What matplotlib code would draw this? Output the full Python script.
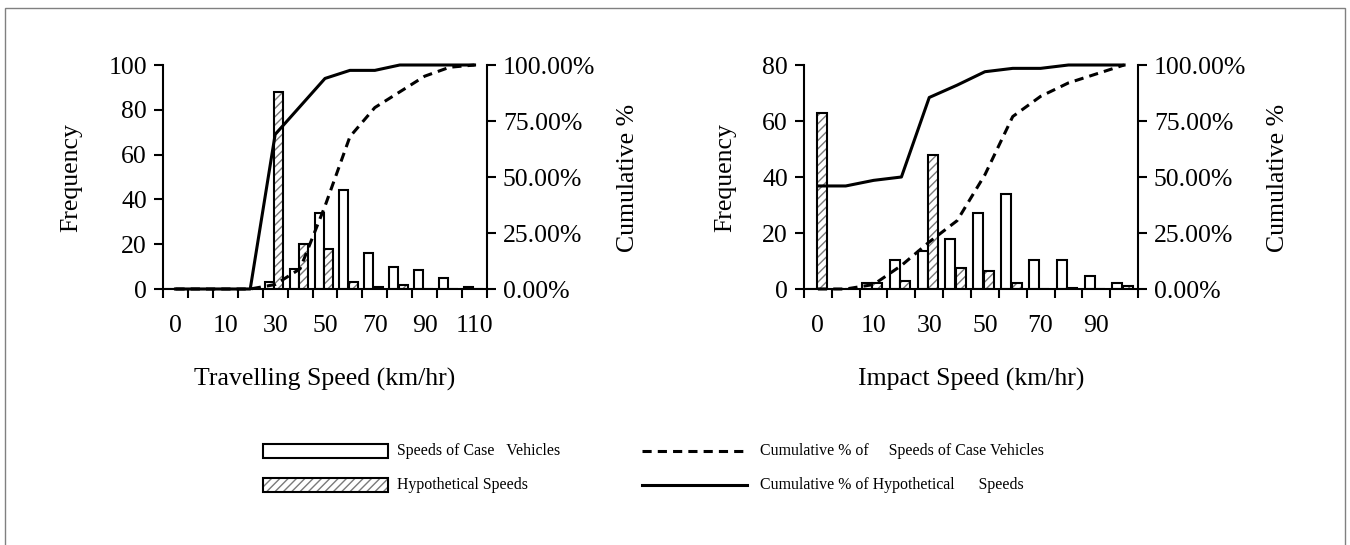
import matplotlib.pyplot as plt
from matplotlib.patches import Rectangle
from matplotlib.lines import Line2D
from matplotlib.ticker import FuncFormatter
import numpy as np

plt.rcParams['font.family'] = ['Liberation Serif', 'DejaVu Serif']

# travelling speed chart (left)
cats_travel = ['0', '5', '10', '20', '30', '40', '50', '60', '70', '80', '90', '100', '110']
case_travel = [0, 0, 0, 0, 3, 9, 34, 44, 16, 10, 8.5, 5, 1]
hyp_travel = [0, 0, 0, 0, 88, 20, 18, 3, 1, 2, 0, 0, 0]
cum_case_travel = [0, 0, 0, 0, 0.02, 0.09, 0.37, 0.68, 0.81, 0.88, 0.95, 0.99, 1.0]
cum_hyp_travel = [0, 0, 0, 0, 0.69, 0.815, 0.94, 0.976, 0.976, 1.0, 1.0, 1.0, 1.0]

# impact speed chart (right)
cats_impact = ['0', '5', '10', '20', '30', '40', '50', '60', '70', '80', '90', '100']
case_impact = [0, 0, 2, 10.5, 13.5, 18, 27, 34, 10.5, 10.5, 4.6, 2]
hyp_impact = [63, 0, 2, 3, 48, 7.5, 6.5, 2, 0, 0.5, 0, 1]
cum_case_impact = [0, 0, 0.02, 0.105, 0.21, 0.305, 0.51, 0.77, 0.86, 0.92, 0.96, 1.0]
cum_hyp_impact = [0.46, 0.46, 0.485, 0.50, 0.855, 0.91, 0.97, 0.985, 0.985, 1.0, 1.0, 1.0]

W, H = 1350, 545
fig = plt.figure(figsize=(13.5, 5.45), dpi=100)

DASH = (0, (3.0, 2.0))


def px_rect(x0, y0, x1, y1):
    return [x0 / W, 1 - y1 / H, (x1 - x0) / W, (y1 - y0) / H]


def fx(x):
    return x / W


def fy(y):
    return 1 - y / H


def chart(rect, cats, case, hyp, cum_case, cum_hyp, ymax):
    ax = fig.add_axes(rect)
    x = np.arange(len(cats))
    ax.bar(x - 0.24, case, 0.36, color='white', edgecolor='black', lw=1.5, zorder=2)
    ax.bar(x + 0.14, hyp, 0.36, color='white', edgecolor='#7a7a7a', hatch='////', lw=0, zorder=2)
    ax.bar(x + 0.14, hyp, 0.36, fill=False, edgecolor='black', lw=1.5, zorder=3)
    ax.set_xlim(-0.5, len(cats) - 0.5)
    ax.set_ylim(0, ymax)
    ax.set_yticks(np.arange(0, ymax + 1, 20))
    ax.set_xticks(np.arange(-0.5, len(cats), 1))
    ax.set_xticklabels([])
    ax.set_xticks(x[::2], minor=True)
    ax.set_xticklabels(cats[::2], minor=True)
    ax.tick_params(axis='x', which='minor', length=0, pad=19, labelsize=18.5)
    ax.tick_params(axis='both', which='major', direction='out', length=6.5, width=1.5, labelsize=18.5)
    ax.tick_params(axis='y', pad=5)
    ax.spines['top'].set_visible(False)
    ax.spines['right'].set_visible(False)
    for s in ['left', 'bottom']:
        ax.spines[s].set_linewidth(1.5)

    ax2 = ax.twinx()
    ax2.plot(x, cum_case, color='black', ls=DASH, lw=2.2, clip_on=False)
    ax2.plot(x, cum_hyp, color='black', ls='-', lw=2.2, clip_on=False)
    ax2.set_ylim(0, 1)
    ax2.set_yticks([0, 0.25, 0.5, 0.75, 1.0])
    ax2.yaxis.set_major_formatter(FuncFormatter(lambda v, p: '{:.2f}%'.format(v * 100)))
    ax2.tick_params(axis='y', direction='out', length=6.5, width=1.5, labelsize=18.5, pad=5)
    for s in ['top', 'left', 'bottom']:
        ax2.spines[s].set_visible(False)
    ax2.spines['right'].set_linewidth(1.5)
    return ax


chart(px_rect(163, 65, 487, 289), cats_travel, case_travel, hyp_travel,
      cum_case_travel, cum_hyp_travel, 100)
chart(px_rect(804, 65, 1138, 289), cats_impact, case_impact, hyp_impact,
      cum_case_impact, cum_hyp_impact, 80)

# axis titles
fig.text(fx(71), fy(178), 'Frequency', rotation=90, ha='center', va='center', fontsize=18.5)
fig.text(fx(628), fy(178), 'Cumulative %', rotation=90, ha='center', va='center', fontsize=18.5)
fig.text(fx(725), fy(178), 'Frequency', rotation=90, ha='center', va='center', fontsize=18.5)
fig.text(fx(1278), fy(178), 'Cumulative %', rotation=90, ha='center', va='center', fontsize=18.5)
fig.text(fx(325), fy(379), 'Travelling Speed (km/hr)', ha='center', va='center', fontsize=18.5)
fig.text(fx(971), fy(379), 'Impact Speed (km/hr)', ha='center', va='center', fontsize=18.5)

# legend
fig.add_artist(Rectangle((fx(263), fy(458)), fx(125), 14 / H, transform=fig.transFigure,
                         facecolor='white', edgecolor='black', lw=1.5))
fig.add_artist(Rectangle((fx(263), fy(492)), fx(125), 14 / H, transform=fig.transFigure,
                         facecolor='white', edgecolor='#7a7a7a', hatch='////', lw=0))
fig.add_artist(Rectangle((fx(263), fy(492)), fx(125), 14 / H, transform=fig.transFigure,
                         fill=False, edgecolor='black', lw=1.5))
fig.add_artist(Line2D([fx(642), fx(747)], [fy(451), fy(451)], transform=fig.transFigure,
                      color='black', ls=DASH, lw=2.2))
fig.add_artist(Line2D([fx(642), fx(747)], [fy(485), fy(485)], transform=fig.transFigure,
                      color='black', ls='-', lw=2.2))
fig.text(fx(397), fy(451), 'Speeds of Case   Vehicles', va='center', fontsize=11.4)
fig.text(fx(397), fy(485), 'Hypothetical Speeds', va='center', fontsize=11.4)
fig.text(fx(760), fy(451), 'Cumulative % of     Speeds of Case Vehicles', va='center', fontsize=11.4)
fig.text(fx(760), fy(485), 'Cumulative % of Hypothetical      Speeds', va='center', fontsize=11.4)

# outer frame
fig.add_artist(Rectangle((fx(5), fy(560)), fx(1340), 552 / H, transform=fig.transFigure,
                         fill=False, edgecolor='#808080', lw=1))

fig.savefig('out.png', dpi=100)
